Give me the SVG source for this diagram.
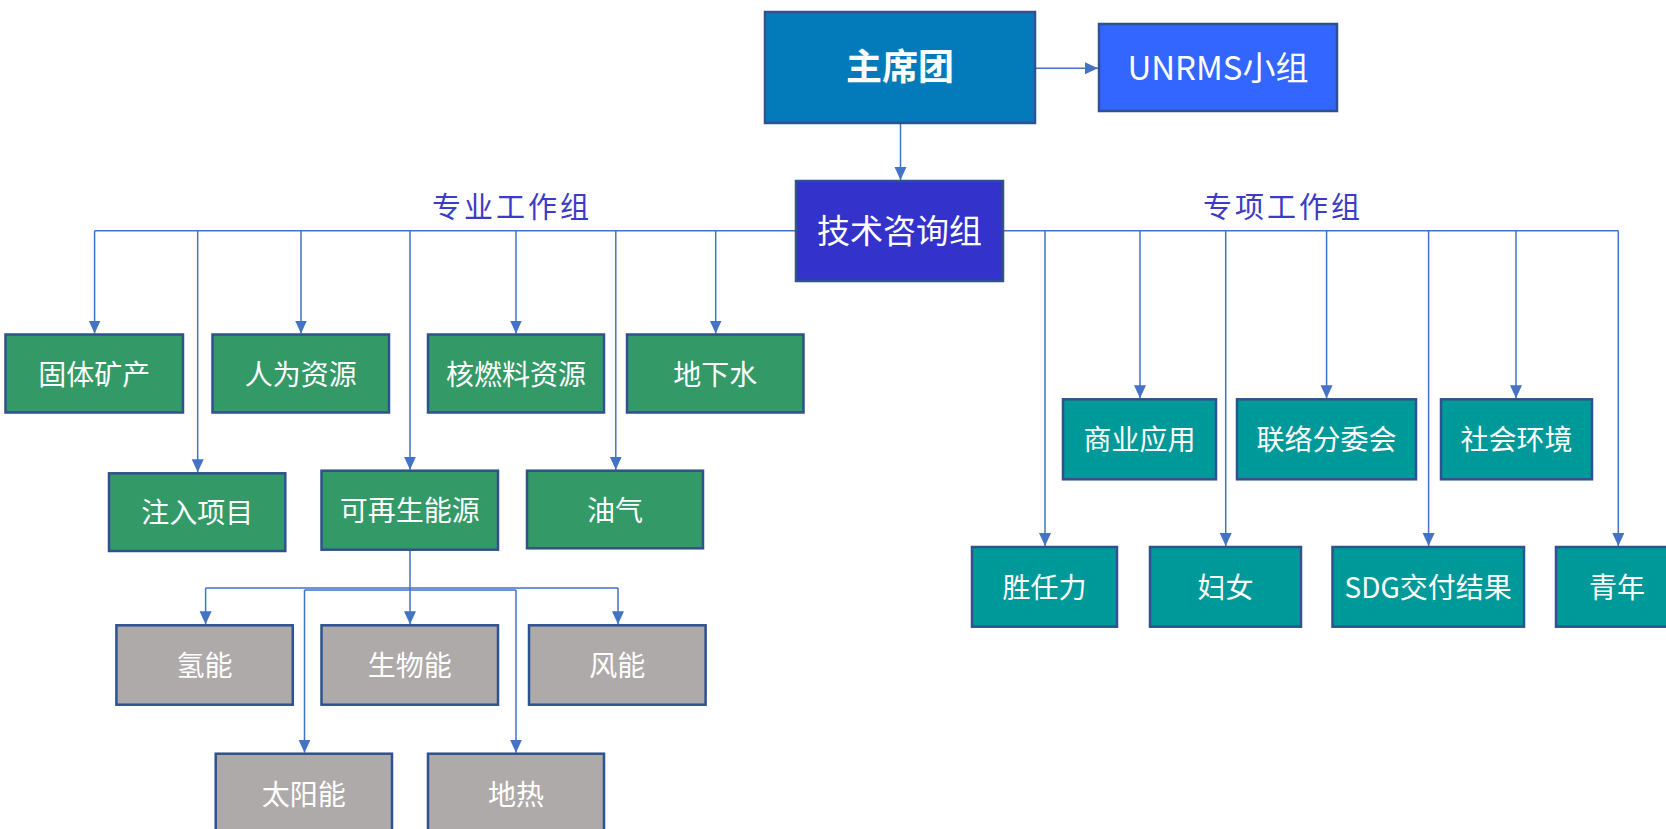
<svg xmlns="http://www.w3.org/2000/svg" width="1666" height="829" viewBox="0 0 1666 829">
<defs>
<marker id="ah" markerUnits="userSpaceOnUse" markerWidth="14" markerHeight="14" refX="13" refY="6" orient="auto">
<path d="M0,0 L13,6 L0,12 z" fill="#4472c4"/>
</marker>
<style>
.box{stroke:#2f528f;stroke-width:2.5}
.top{fill:#037bbb}
.un{fill:#3366ff}
.tech{fill:#3333cc}
.green{fill:#339966}
.teal{fill:#009999}
.grey{fill:#aeaaaa}
.t{font-family:"Noto Sans CJK SC","Noto Sans",sans-serif;fill:#ffffff;font-size:28px;text-anchor:middle}
.big{font-size:36px;font-weight:bold}
.mid{font-size:33px}
.lbl{font-family:"Noto Sans CJK SC",sans-serif;fill:#3b3bc4;font-size:29px;font-weight:400;letter-spacing:3px;text-anchor:middle}
.c{fill:none;stroke:#4472c4;stroke-width:1.5}
</style>
</defs>
<rect width="1666" height="829" fill="#ffffff"/>

<g id="connectors">
<line class="c" x1="1035" y1="68.3" x2="1098" y2="68.3" marker-end="url(#ah)"/>
<line class="c" x1="900.5" y1="123" x2="900.5" y2="180" marker-end="url(#ah)"/>
<path class="c" d="M796,230.7 H94.6"/>
<line class="c" x1="94.6" y1="230.7" x2="94.6" y2="333.5" marker-end="url(#ah)"/>
<line class="c" x1="197.7" y1="230.7" x2="197.7" y2="472.3" marker-end="url(#ah)"/>
<line class="c" x1="301" y1="230.7" x2="301" y2="333.5" marker-end="url(#ah)"/>
<line class="c" x1="410" y1="230.7" x2="410" y2="469.7" marker-end="url(#ah)"/>
<line class="c" x1="516" y1="230.7" x2="516" y2="333.5" marker-end="url(#ah)"/>
<line class="c" x1="615.8" y1="230.7" x2="615.8" y2="469.7" marker-end="url(#ah)"/>
<line class="c" x1="715.7" y1="230.7" x2="715.7" y2="333.5" marker-end="url(#ah)"/>
<path class="c" d="M1003,230.7 H1618.3"/>
<line class="c" x1="1045" y1="230.7" x2="1045" y2="546" marker-end="url(#ah)"/>
<line class="c" x1="1140" y1="230.7" x2="1140" y2="398.3" marker-end="url(#ah)"/>
<line class="c" x1="1225.7" y1="230.7" x2="1225.7" y2="546" marker-end="url(#ah)"/>
<line class="c" x1="1326.6" y1="230.7" x2="1326.6" y2="398.3" marker-end="url(#ah)"/>
<line class="c" x1="1428.6" y1="230.7" x2="1428.6" y2="546" marker-end="url(#ah)"/>
<line class="c" x1="1516" y1="230.7" x2="1516" y2="398.3" marker-end="url(#ah)"/>
<line class="c" x1="1618.3" y1="230.7" x2="1618.3" y2="546" marker-end="url(#ah)"/>
<path class="c" d="M410,550 V588 M205.6,588 H618"/>
<line class="c" x1="205.6" y1="588" x2="205.6" y2="624.3" marker-end="url(#ah)"/>
<line class="c" x1="410" y1="588" x2="410" y2="624.3" marker-end="url(#ah)"/>
<line class="c" x1="618" y1="588" x2="618" y2="624.3" marker-end="url(#ah)"/>
<path class="c" d="M410,588 V590 M304.5,590 H516"/>
<line class="c" x1="304.5" y1="590" x2="304.5" y2="752.7" marker-end="url(#ah)"/>
<line class="c" x1="516" y1="590" x2="516" y2="752.7" marker-end="url(#ah)"/>
</g>

<text class="lbl" x="512" y="218">专业工作组</text>
<text class="lbl" x="1283" y="218">专项工作组</text>

<g id="n-zhuxituan"><rect class="box top" x="765" y="12" width="270" height="111"/><text class="t big" x="900" y="80">主席团</text></g>
<g id="n-unrms"><rect class="box un" x="1099" y="24" width="238" height="87"/><text class="t mid" x="1218" y="80">UNRMS小组</text></g>
<g id="n-jishu"><rect class="box tech" x="796" y="181" width="207" height="100"/><text class="t mid" x="899.5" y="243">技术咨询组</text></g>

<g id="n-guti"><rect class="box green" x="5.5" y="334.5" width="177.5" height="78"/><text class="t" x="94.2" y="384.5">固体矿产</text></g>
<g id="n-renwei"><rect class="box green" x="212.5" y="334.5" width="176.5" height="78"/><text class="t" x="300.8" y="384.5">人为资源</text></g>
<g id="n-heranliao"><rect class="box green" x="428" y="334.5" width="176" height="78"/><text class="t" x="516" y="384.5">核燃料资源</text></g>
<g id="n-dixiashui"><rect class="box green" x="627" y="334.5" width="176.5" height="78"/><text class="t" x="715.2" y="384.5">地下水</text></g>

<g id="n-zhuru"><rect class="box green" x="109" y="473.3" width="176.3" height="77.7"/><text class="t" x="197.2" y="523">注入项目</text></g>
<g id="n-kezaisheng"><rect class="box green" x="321.5" y="470.7" width="176.5" height="79"/><text class="t" x="409.8" y="521">可再生能源</text></g>
<g id="n-youqi"><rect class="box green" x="527" y="470.7" width="176" height="77.6"/><text class="t" x="615" y="521">油气</text></g>

<g id="n-qingneng"><rect class="box grey" x="116.4" y="625.3" width="176.4" height="79.4"/><text class="t" x="204.6" y="676">氢能</text></g>
<g id="n-shengwu"><rect class="box grey" x="321.5" y="625.3" width="176.5" height="79.4"/><text class="t" x="409.8" y="676">生物能</text></g>
<g id="n-fengneng"><rect class="box grey" x="529" y="625.3" width="176.6" height="79.4"/><text class="t" x="617.3" y="676">风能</text></g>
<g id="n-taiyang"><rect class="box grey" x="215.7" y="753.7" width="176.3" height="80"/><text class="t" x="303.8" y="805">太阳能</text></g>
<g id="n-dire"><rect class="box grey" x="428" y="753.7" width="176" height="80"/><text class="t" x="516" y="805">地热</text></g>

<g id="n-shangye"><rect class="box teal" x="1063" y="399.3" width="153" height="80"/><text class="t" x="1139.5" y="450">商业应用</text></g>
<g id="n-lianluo"><rect class="box teal" x="1237" y="399.3" width="179" height="80"/><text class="t" x="1326.5" y="450">联络分委会</text></g>
<g id="n-shehui"><rect class="box teal" x="1441" y="399.3" width="151" height="80"/><text class="t" x="1516.5" y="450">社会环境</text></g>

<g id="n-shengren"><rect class="box teal" x="972" y="547" width="145" height="79.7"/><text class="t" x="1044.5" y="597.5">胜任力</text></g>
<g id="n-funv"><rect class="box teal" x="1150" y="547" width="151" height="79.7"/><text class="t" x="1225.5" y="597.5">妇女</text></g>
<g id="n-sdg"><rect class="box teal" x="1332.5" y="547" width="191.5" height="79.7"/><text class="t" x="1428.2" y="597.5">SDG交付结果</text></g>
<g id="n-qingnian"><rect class="box teal" x="1556" y="547" width="124" height="79.7"/><text class="t" x="1617" y="597.5">青年</text></g>
</svg>
